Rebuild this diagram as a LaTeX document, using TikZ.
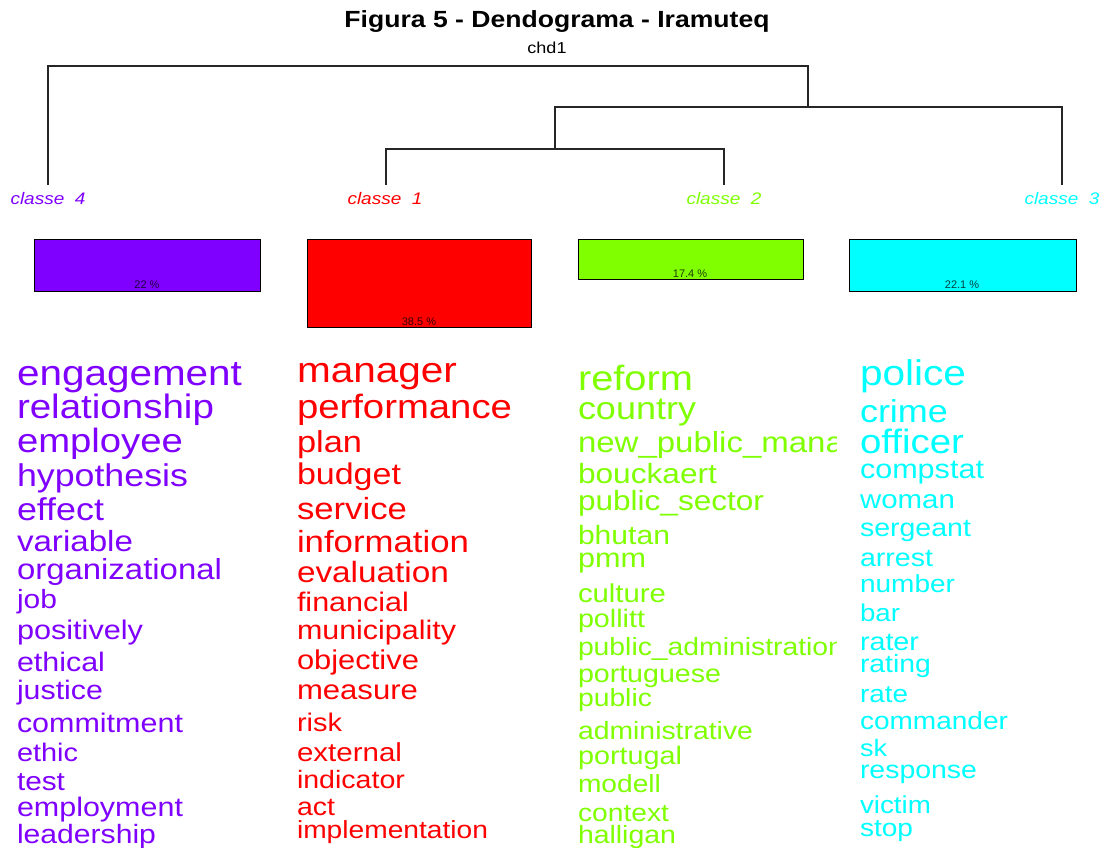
\documentclass[tikz,border=0pt]{standalone}
\usepackage{fontspec}
\setmainfont{Liberation Sans}
\usepackage{graphicx}
\definecolor{cpurp}{HTML}{7F00FF}
\definecolor{cred}{HTML}{FF0000}
\definecolor{cgreen}{HTML}{7FFF00}
\definecolor{ccyan}{HTML}{00FFFF}
\newcommand{\vsc}{0.88}
\newcommand{\wordbox}[2]{\scalebox{1}[\vsc]{\resizebox{#1pt}{!}{\fontsize{30}{30}\selectfont #2}}}
\tikzset{
  word/.style={anchor=base west, inner sep=0pt, outer sep=0pt},
  tree/.style={draw=black!85, line width=1.2pt},
  barbox/.style={draw=black, line width=1pt, inner sep=0pt},
  pct/.style={anchor=base, inner sep=0pt, font=\fontsize{11}{11}\selectfont},
  clabel/.style={anchor=base, inner sep=0pt, font=\fontsize{19}{19}\selectfont\itshape}
}
\begin{document}
\begin{tikzpicture}[x=1pt, y=-1pt]
\clip (0,0) rectangle (1106,847);
\useasboundingbox (0,0) rectangle (1106,847);
\fill[white] (0,0) rectangle (1106,847);

% title
\node[anchor=base, inner sep=0pt] (title) at (557,27)
  {\scalebox{1}[\vsc]{\resizebox{425pt}{!}{\bfseries Figura 5 - Dendograma - Iramuteq}}};
\node[anchor=base, inner sep=0pt] (chd) at (547,53)
  {\scalebox{1}[\vsc]{\fontsize{18}{18}\selectfont chd1}};

% leaves of dendrogram
\coordinate (k4) at (48,185);
\coordinate (k1) at (386,185);
\coordinate (k2) at (724,185);
\coordinate (k3) at (1062,185);
\coordinate (m12) at (555,149);
\coordinate (m123) at (808,107);
\coordinate (mroot) at (808,66);
\draw[tree] (k1) |- (m12) -| (k2);
\draw[tree] (m12) |- (m123) -| (k3);
\draw[tree] (m123) -- (mroot) -| (k4);

% class labels
\node[clabel, text=cpurp] (c4) at (48,204) {\scalebox{1}[\vsc]{classe\ \ 4}};
\node[clabel, text=cred] (c1) at (385,204) {\scalebox{1}[\vsc]{classe\ \ 1}};
\node[clabel, text=cgreen] (c2) at (724,204) {\scalebox{1}[\vsc]{classe\ \ 2}};
\node[clabel, text=ccyan] (c3) at (1062,204) {\scalebox{1}[\vsc]{classe\ \ 3}};

% bars
\node[barbox, fill=cpurp, minimum width=226pt, minimum height=52pt] (b4) at (147,265) {};
\node[barbox, fill=cred, minimum width=224pt, minimum height=88pt] (b1) at (419,283) {};
\node[barbox, fill=cgreen, minimum width=225pt, minimum height=40pt] (b2) at (690.5,259) {};
\node[barbox, fill=ccyan, minimum width=227pt, minimum height=52pt] (b3) at (962.5,265) {};
\node[pct, text=black!75!cpurp] (p4) at (147,288) {22 \%};
\node[pct, text=black!80!cred] (p1) at (419,325) {38.5 \%};
\node[pct, text=black!75!cgreen] (p2) at (690,277) {17.4 \%};
\node[pct, text=black!75!ccyan] (p3) at (962,288) {22.1 \%};

% column classe 4
\foreach \t/\ww/\yy [count=\i] in {
  engagement/225/385, relationship/197/418, employee/166/452, hypothesis/171/486,
  effect/87/520, variable/116/551, organizational/205/579, job/40/608,
  positively/126/639, ethical/88/671, justice/86/699, commitment/166/732,
  ethic/61/761, test/48/790, employment/166/816, leadership/139/843}
  \node[word, text=cpurp] (wa\i) at (17,\yy) {\wordbox{\ww}{\t}};

% column classe 1
\foreach \t/\ww/\yy [count=\i] in {
  manager/160/382, performance/215/418, plan/65/452, budget/104/484,
  service/110/519, information/172/552, evaluation/152/582, financial/112/611,
  municipality/159/639, objective/122/669, measure/121/699, risk/45/731,
  external/105/761, indicator/108/788, act/38/815, implementation/191/838}
  \node[word, text=cred] (wb\i) at (297,\yy) {\wordbox{\ww}{\t}};

% column classe 2
\begin{scope}
\clip (570,340) rectangle (836,847);
\foreach \t/\ww/\yy [count=\i] in {
  reform/115/390, country/118/419, new\_public\_management/376/452, bouckaert/139/483,
  public\_sector/186/510, bhutan/92/544, pmm/68/567, culture/88/602,
  pollitt/67/627, public\_administration/266/655, portuguese/143/682, public/74/706,
  administrative/175/739, portugal/104/764, modell/83/792, context/91/821,
  halligan/98/843}
  \node[word, text=cgreen] (wc\i) at (578,\yy) {\wordbox{\ww}{\t}};
\end{scope}

% column classe 3
\foreach \t/\ww/\yy [count=\i] in {
  police/106/385, crime/88/422, officer/104/453, compstat/124/478,
  woman/95/508, sergeant/111/536, arrest/73/566, number/95/592,
  bar/40/621, rater/59/650, rating/71/672, rate/48/702,
  commander/148/729, sk/27/756, response/117/778, victim/71/813, stop/53/836}
  \node[word, text=ccyan] (wd\i) at (860,\yy) {\wordbox{\ww}{\t}};
\end{tikzpicture}
\end{document}
